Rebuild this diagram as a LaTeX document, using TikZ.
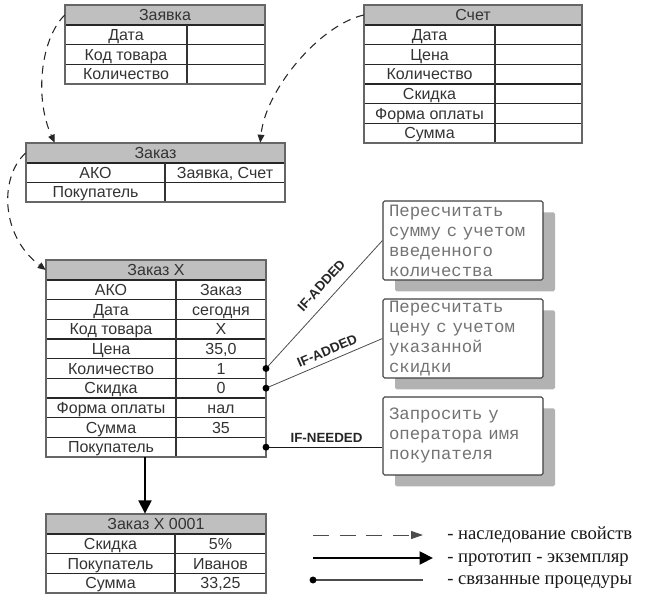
\documentclass[tikz,border=0pt]{standalone}
\usepackage{fontspec}
\setmainfont{Liberation Sans}
\newfontfamily\monof{Liberation Mono}
\newfontfamily\seriff{Liberation Serif}
\usetikzlibrary{arrows.meta,shadows,calc}

\tikzset{
  hdr/.style={fill=black!25, inner sep=0pt, font=\fontsize{12}{14}\selectfont, text=black!80, text height=9pt, text depth=0.4pt},
  cell/.style={inner sep=0pt, font=\fontsize{12}{14}\selectfont, text=black!80, text height=9pt, text depth=0.4pt},
  rowline/.style={line width=1.1pt, black!85},
  colline/.style={line width=0.9pt, black!80},
  border/.style={line width=0.8pt, black!60},
  proc/.style={draw=black!75, line width=0.8pt, rounded corners=1.2pt, fill=white, inner xsep=4.5pt, inner ysep=0pt, minimum width=120pt, text width=111pt, align=left, font=\monof\fontsize{13}{15}\selectfont, text=black!55, drop shadow={shadow xshift=9pt, shadow yshift=-8.5pt, fill=black!30, opacity=1}},
  lbl/.style={inner sep=0pt, font=\bfseries\fontsize{10}{12}\selectfont, text=black!85},
  thinlink/.style={line width=0.6pt, black!70},
  thicklink/.style={line width=1pt, black!90},
  inh/.style={line width=0.8pt, black!85, dash pattern=on 6pt off 4.5pt, -{Triangle[length=6pt,width=5pt]}},
  legdash/.style={line width=0.75pt, black!70, dash pattern=on 12pt off 8pt, -{Triangle[length=9pt,width=6pt]}},
  proto/.style={line width=2.2pt, black, -{Triangle[length=10pt,width=9.5pt]}},
  legtext/.style={anchor=west, inner sep=0pt, font=\seriff\fontsize{14}{16}\selectfont, text=black!90, text height=6.6pt, text depth=0.3pt},
  dot/.style={fill=black}
}

% name, left, right, divider, top, bottom, rows, header, row list
\newcommand\ftable[9]{%
  \pgfmathsetmacro\tw{(#3-#2)*0.75}%
  \pgfmathsetmacro\hb{#5+20}%
  \pgfmathsetmacro\rh{(#6-#5-20)/#7}%
  \node[hdr, minimum width=\tw pt, minimum height=15pt] (#1) at ({(#2+#3)/2},{#5+10}) {#8};
  \foreach \a/\b [count=\i] in {#9} {%
    \pgfmathsetmacro\yt{\hb+(\i-1)*\rh}%
    \pgfmathsetmacro\yc{\yt+\rh/2}%
    \draw[rowline] (#2,\yt) -- (#3,\yt);
    \node[cell] (#1-l\i) at ({(#2+#4)/2},\yc) {\a};
    \node[cell] (#1-r\i) at ({(#4+#3)/2},\yc) {\b};
    \coordinate (#1-e\i) at (#3,\yc);
  }%
  \draw[colline] (#4,\hb) -- (#4,#6);
  \draw[border] (#2,#5) rectangle (#3,#6);
  \coordinate (#1-s) at ({(#2+#3)/2},#6);
}

\begin{document}
\begin{tikzpicture}[x=0.75pt,y=-0.75pt]
\useasboundingbox (0,0) rectangle (647,600);

\ftable{zv}{65}{265}{187}{5}{84}{3}{Заявка}{Дата/{},Код товара/{},Количество/{}}
\ftable{sc}{364}{582}{495}{5}{143}{6}{Счет}{Дата/{},Цена/{},Количество/{},Скидка/{},Форма оплаты/{},Сумма/{}}
\ftable{zk}{26}{285}{165}{143}{202}{2}{Заказ}{АКО/{Заявка, Счет},Покупатель/{}}
\ftable{zx}{46}{266}{176}{260}{457}{9}{Заказ X}{АКО/Заказ,Дата/сегодня,Код товара/X,Цена/{35,0},Количество/1,Скидка/0,Форма оплаты/нал,Сумма/35,Покупатель/{}}
\ftable{z1}{46}{266}{175}{514}{593}{3}{Заказ X 0001}{Скидка/5\%,Покупатель/Иванов,Сумма/{33,25}}

% procedures
\node[proc, minimum height=59.25pt] (p1) at (463,240.5) {Пересчитать\\сумму с учетом\\введенного\\количества};
\node[proc, minimum height=59.25pt] (p2) at (463,338.5) {Пересчитать\\цену с учетом\\указанной\\скидки};
\node[proc, minimum height=58.5pt] (p3) at (463,436) {Запросить у\\оператора имя\\покупателя};

\draw[thinlink] (zx-e5) -- node[lbl, sloped, above=7.5pt, pos=.57]{IF-ADDED} (p1.west);
\draw[thinlink] (zx-e6) -- node[lbl, sloped, above=4pt, pos=.56]{IF-ADDED} (p2.west);
\draw[thicklink] (zx-e9) -- node[lbl, above=3.2pt, pos=.52]{IF-NEEDED} (zx-e9 -| p3.west);
\fill[dot] (zx-e5) circle (2.6pt);
\fill[dot] (zx-e6) circle (2.6pt);
\fill[dot] (zx-e9) circle (2.6pt);

% inheritance
\draw[inh] (zv.west) .. controls +(-25,25) and +(-20,-43) .. ($(zk.north west)+(29,0)$);
\draw[inh] (sc.west) .. controls +(-44,10) and +(5,-53) .. ($(zk.north east)+(-25,0)$);
\draw[inh] (zk.west) .. controls +(-26,23) and +(-46,-35) .. (zx.west);

% prototype - instance
\coordinate (zx-out) at (145,457);
\draw[proto] (zx-out) -- (zx-out |- z1.north);

% legend
\coordinate (la1) at (313,535); \coordinate (lb1) at (423,535);
\coordinate (la2) at (313,558); \coordinate (lb2) at (433,558);
\coordinate (la3) at (313,580); \coordinate (lb3) at (423,580);
\draw[legdash] (la1) -- (lb1);
\draw[proto] (la2) -- (lb2);
\draw[thinlink, line width=0.8pt] (la3) -- (lb3);
\fill[dot] (la3) circle (2.6pt);
\node[legtext] (lt1) at (447,535) {- наследование свойств};
\node[legtext] (lt2) at (447,558) {- прототип - экземпляр};
\node[legtext] (lt3) at (447,580) {- связанные процедуры};
\end{tikzpicture}
\end{document}
